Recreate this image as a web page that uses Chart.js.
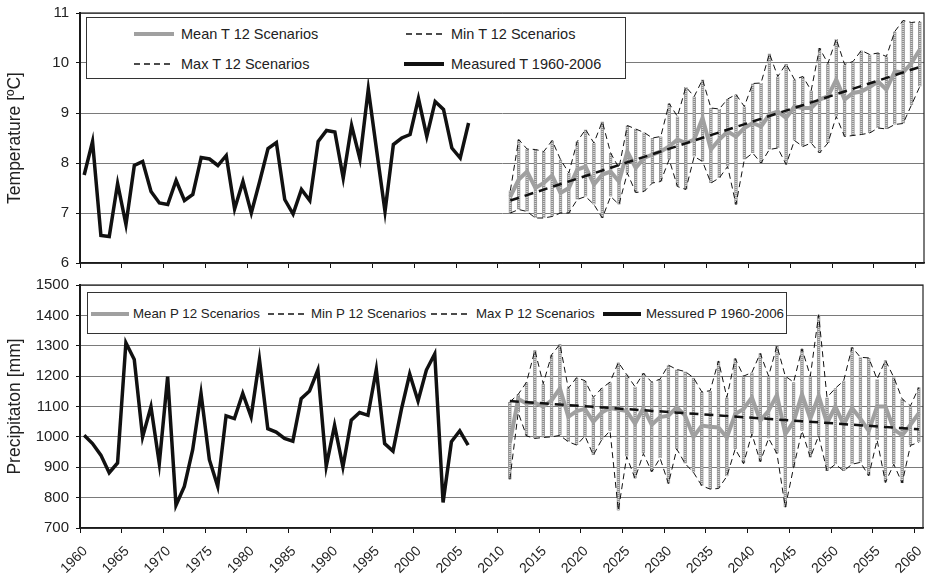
<!DOCTYPE html>
<html>
<head>
<meta charset="utf-8">
<script src="https://cdn.jsdelivr.net/npm/chart.js@4.4.1/dist/chart.umd.min.js"></script>
<style>
  body { margin: 0; background: #fff; }
  #wrap { position: relative; width: 929px; height: 578px; font-family: "Liberation Sans", Arial, sans-serif; color: #222; }
  #topChart { position: absolute; left: 0; top: 0; }
  #bottomChart { position: absolute; left: 0; top: 272px; }
  .legend { position: absolute; background: #fff; border: 1px solid #333; box-sizing: border-box; }
  .legend span { position: absolute; white-space: nowrap; line-height: 18px; }
  .legend svg { position: absolute; }
</style>
</head>
<body>
<div id="wrap">
  <canvas id="topChart" width="929" height="272"></canvas>
  <canvas id="bottomChart" width="929" height="306"></canvas>

  <div class="legend" style="left:86px; top:17px; width:540px; height:62px; font-size:14.5px;">
    <svg style="left:47px; top:12px" width="40" height="8"><line x1="0" y1="4" x2="40" y2="4" stroke="#a0a0a0" stroke-width="4"/></svg>
    <span style="left:94px; top:7px">Mean T 12 Scenarios</span>
    <svg style="left:319px; top:12px" width="40" height="8"><line x1="0" y1="4" x2="40" y2="4" stroke="#111" stroke-width="1.5" stroke-dasharray="6 4"/></svg>
    <span style="left:364px; top:7px">Min T 12 Scenarios</span>
    <svg style="left:47px; top:42px" width="40" height="8"><line x1="0" y1="4" x2="40" y2="4" stroke="#111" stroke-width="1.5" stroke-dasharray="6 4"/></svg>
    <span style="left:94px; top:37px">Max T 12 Scenarios</span>
    <svg style="left:317px; top:42px" width="40" height="8"><line x1="0" y1="4" x2="40" y2="4" stroke="#111" stroke-width="4"/></svg>
    <span style="left:364px; top:37px">Measured T 1960-2006</span>
  </div>

  <div class="legend" style="left:87px; top:292px; width:700px; height:42px; font-size:13.3px;">
    <svg style="left:3px; top:17px" width="38" height="8"><line x1="0" y1="4" x2="38" y2="4" stroke="#a0a0a0" stroke-width="4"/></svg>
    <span style="left:45px; top:12px">Mean P 12 Scenarios</span>
    <svg style="left:180px; top:17px" width="38" height="8"><line x1="0" y1="4" x2="38" y2="4" stroke="#111" stroke-width="1.5" stroke-dasharray="6 4"/></svg>
    <span style="left:223px; top:12px">Min P 12 Scenarios</span>
    <svg style="left:343px; top:17px" width="40" height="8"><line x1="0" y1="4" x2="40" y2="4" stroke="#111" stroke-width="1.5" stroke-dasharray="6 4"/></svg>
    <span style="left:388px; top:12px">Max P 12 Scenarios</span>
    <svg style="left:515px; top:17px" width="38" height="8"><line x1="0" y1="4" x2="38" y2="4" stroke="#111" stroke-width="4"/></svg>
    <span style="left:558px; top:12px">Messured P 1960-2006</span>
  </div>
</div>

<script>
// years on the x axis
const firstYear = 1960, lastYear = 2060;
const measuredStart = 1960;   // measured series 1960-2006
const scenarioStart = 2011;   // scenario series 2011-2060

// measured temperature 1960-2006 (ºC)
const measuredT = [7.76, 8.43, 6.55, 6.53, 7.59, 6.77, 7.95, 8.03, 7.43, 7.2,
                   7.17, 7.65, 7.25, 7.37, 8.11, 8.08, 7.95, 8.15, 7.08, 7.63,
                   7.0, 7.63, 8.29, 8.41, 7.27, 6.98, 7.47, 7.25, 8.43, 8.65,
                   8.62, 7.7, 8.75, 8.08, 9.48, 8.25, 7.03, 8.37, 8.5, 8.57,
                   9.29, 8.53, 9.23, 9.07, 8.3, 8.1, 8.8];

// scenarios 2011-2060 (ºC)
const meanT = [7.33, 7.67, 7.83, 7.5, 7.6, 7.75, 7.4, 7.5, 7.87, 7.93,
               7.57, 7.77, 7.83, 7.63, 8.23, 7.9, 8.1, 8.17, 8.23, 8.33,
               8.47, 8.4, 8.47, 8.9, 8.27, 8.47, 8.63, 8.53, 8.7, 8.8,
               8.73, 8.97, 9.03, 8.9, 9.13, 9.1, 9.1, 9.27, 9.33, 9.67,
               9.27, 9.4, 9.43, 9.52, 9.63, 9.47, 9.83, 9.81, 10.0, 10.27];
const maxT = [7.45, 8.47, 8.28, 8.27, 8.23, 8.45, 8.07, 7.8, 8.43, 8.67,
              8.4, 8.83, 8.2, 7.9, 8.75, 8.68, 8.61, 8.5, 8.53, 9.19,
              8.93, 9.52, 9.33, 9.67, 9.1, 9.08, 9.28, 9.37, 9.13, 9.59,
              9.6, 10.19, 9.73, 9.98, 9.67, 9.73, 9.45, 10.3, 9.99, 10.48,
              9.97, 10.03, 10.25, 10.17, 10.2, 10.13, 10.63, 10.85, 10.81, 10.83];
const minT = [7.0, 7.07, 7.03, 6.9, 6.9, 6.93, 7.0, 7.0, 7.27, 7.33,
              7.17, 6.9, 7.33, 7.17, 7.8, 7.41, 7.43, 7.6, 7.63, 8.07,
              7.53, 7.47, 8.13, 8.03, 7.6, 7.7, 7.93, 7.17, 8.07, 8.2,
              8.0, 8.27, 8.3, 7.97, 8.45, 8.33, 8.4, 8.2, 8.4, 8.93,
              8.53, 8.55, 8.57, 8.6, 8.7, 8.68, 8.77, 8.79, 9.16, 9.53];
const trendYears = [2011, 2060];
const trendT = [7.25, 9.92];

// measured precipitation 1960-2006 (mm)
const measuredP = [1005, 978, 940, 882, 914, 1310, 1255, 1000, 1099, 912,
                   1198, 775, 837, 958, 1143, 925, 837, 1069, 1060, 1143,
                   1066, 1255, 1027, 1016, 995, 986, 1126, 1151, 1220, 903,
                   1038, 901, 1055, 1080, 1071, 1222, 978, 953, 1090, 1207,
                   1118, 1220, 1273, 784, 984, 1020, 973];

// scenarios 2011-2060 (mm)
const meanP = [980, 1125, 1110, 1112, 1100, 1120, 1160, 1066, 1085, 1092,
               1050, 1080, 1095, 1090, 1085, 1044, 1095, 1040, 1065, 1070,
               1097, 1070, 1000, 1037, 1033, 1031, 998, 1075, 1092, 1130,
               1053, 1086, 1138, 1009, 1050, 1140, 1060, 1135, 1045, 1100,
               1040, 1095, 1060, 1020, 1100, 1100, 1025, 1005, 1040, 1078];
const maxP = [1115, 1140, 1180, 1285, 1175, 1270, 1305, 1160, 1195, 1185,
              1130, 1160, 1180, 1245, 1205, 1165, 1210, 1180, 1190, 1236,
              1222, 1215, 1195, 1148, 1152, 1250, 1130, 1258, 1200, 1212,
              1275, 1200, 1300, 1200, 1180, 1290, 1200, 1402, 1130, 1160,
              1185, 1295, 1262, 1260, 1190, 1252, 1196, 1125, 1102, 1163];
const minP = [860, 1080, 1003, 995, 998, 1000, 1005, 984, 973, 1003,
              940, 990, 1020, 758, 935, 863, 945, 885, 930, 846,
              960, 912, 883, 839, 828, 830, 870, 960, 912, 1010,
              918, 995, 945, 768, 900, 1020, 932, 1004, 888, 910,
              888, 910, 916, 872, 990, 850, 910, 848, 972, 982];
const trendP = [1118, 1025];

const FONT = '"Liberation Sans", Arial, sans-serif';
Chart.defaults.font.family = FONT;
Chart.defaults.color = '#222';

const allYears = [];
for (let y = firstYear; y <= lastYear; y++) allYears.push(y);

function pts(start, values) {
    return values.map((v, i) => ({ x: start + i, y: v }));
}

// dotted grey fill for the high-low bars
const pc = document.createElement('canvas');
pc.width = 1; pc.height = 2;
const pctx = pc.getContext('2d');
pctx.fillStyle = '#8c8c8c'; pctx.fillRect(0, 0, 1, 1);
pctx.fillStyle = '#d6d6d6'; pctx.fillRect(0, 1, 1, 1);
const hatch = pctx.createPattern(pc, 'repeat');

// box round the plot area
const frame = {
    id: 'frame',
    afterDatasetsDraw(chart) {
        const a = chart.chartArea, c = chart.ctx;
        c.save();
        c.strokeStyle = '#222';
        c.lineWidth = 1.2;
        c.strokeRect(a.left, a.top, a.right - a.left, a.bottom - a.top);
        c.restore();
    }
};

function makeChart(id, cfg) {
    const ctx = document.getElementById(id).getContext('2d');
    return new Chart(ctx, {
        type: 'line',
        data: {
            datasets: [
                {
                    type: 'bar',
                    data: cfg.minV.map((v, i) => ({ x: scenarioStart + i, y: [v, cfg.maxV[i]] })),
                    backgroundColor: hatch,
                    borderColor: '#9a9a9a',
                    borderWidth: { left: 1, right: 1, top: 0, bottom: 0 },
                    borderSkipped: false,
                    barThickness: 3,
                    order: 6
                },
                {
                    data: pts(scenarioStart, cfg.minV),
                    borderColor: '#111', borderWidth: 1, borderDash: [6, 4],
                    pointRadius: 0, order: 5
                },
                {
                    data: pts(scenarioStart, cfg.maxV),
                    borderColor: '#111', borderWidth: 1, borderDash: [6, 4],
                    pointRadius: 0, order: 4
                },
                {
                    data: pts(scenarioStart, cfg.meanV),
                    borderColor: '#a0a0a0', borderWidth: 4,
                    pointRadius: 0, order: 3
                },
                {
                    data: trendYears.map((y, i) => ({ x: y, y: cfg.trend[i] })),
                    borderColor: '#111', borderWidth: 2.5, borderDash: [9, 6],
                    pointRadius: 0, order: 2
                },
                {
                    data: pts(measuredStart, cfg.measured),
                    borderColor: '#111', borderWidth: 3.5,
                    pointRadius: 0, order: 1
                }
            ]
        },
        options: {
            responsive: false,
            animation: false,
            devicePixelRatio: 1,
            layout: { padding: { left: 0, right: cfg.padRight, top: 13, bottom: 0 } },
            plugins: { legend: { display: false }, tooltip: { enabled: false } },
            scales: {
                x: {
                    type: 'linear',
                    min: firstYear - 0.5,
                    max: lastYear + 0.5,
                    offset: false,
                    afterBuildTicks: s => { s.ticks = allYears.map(v => ({ value: v })); },
                    afterFit: s => {
                        s.height = cfg.xHeight;
                        s.paddingLeft = 0;
                        s.paddingRight = 0;
                    },
                    grid: {
                        offset: true,
                        drawOnChartArea: false,
                        drawTicks: true,
                        tickLength: 5,
                        color: c => (c.tick && c.tick.value % 5 === 0) ? '#111' : 'rgba(0,0,0,0)'
                    },
                    border: { display: true, color: '#111', width: 1.5 },
                    ticks: {
                        display: cfg.showLabels,
                        autoSkip: false,
                        minRotation: 45,
                        maxRotation: 45,
                        padding: 10,
                        labelOffset: 1,
                        color: '#222',
                        font: { family: FONT, size: 14 },
                        callback: v => (v % 5 === 0 ? String(v) : '')
                    }
                },
                y: {
                    min: cfg.yMin,
                    max: cfg.yMax,
                    afterFit: s => {
                        s.width = 80;
                        s.paddingTop = 0;
                        s.paddingBottom = 0;
                    },
                    grid: { color: '#7a7a7a', lineWidth: 1, tickLength: 4, tickColor: '#111' },
                    border: { display: true, color: '#111', width: 2 },
                    ticks: {
                        stepSize: cfg.step,
                        padding: 7,
                        color: '#222',
                        font: { family: FONT, size: 15 },
                        callback: v => String(v)
                    },
                    title: {
                        display: true,
                        text: cfg.title,
                        color: '#222',
                        font: { family: FONT, size: 17.5 },
                        padding: { top: 5, bottom: 0 }
                    }
                }
            }
        },
        plugins: [frame]
    });
}

makeChart('topChart', {
    measured: measuredT, meanV: meanT, minV: minT, maxV: maxT, trend: trendT,
    yMin: 6, yMax: 11, step: 1, title: 'Temperature [ºC]',
    showLabels: false, xHeight: 9, padRight: 5
});

makeChart('bottomChart', {
    measured: measuredP, meanV: meanP, minV: minP, maxV: maxP, trend: trendP,
    yMin: 700, yMax: 1500, step: 100, title: 'Precipitaton [mm]',
    showLabels: true, xHeight: 50, padRight: 6
});
</script>
</body>
</html>
